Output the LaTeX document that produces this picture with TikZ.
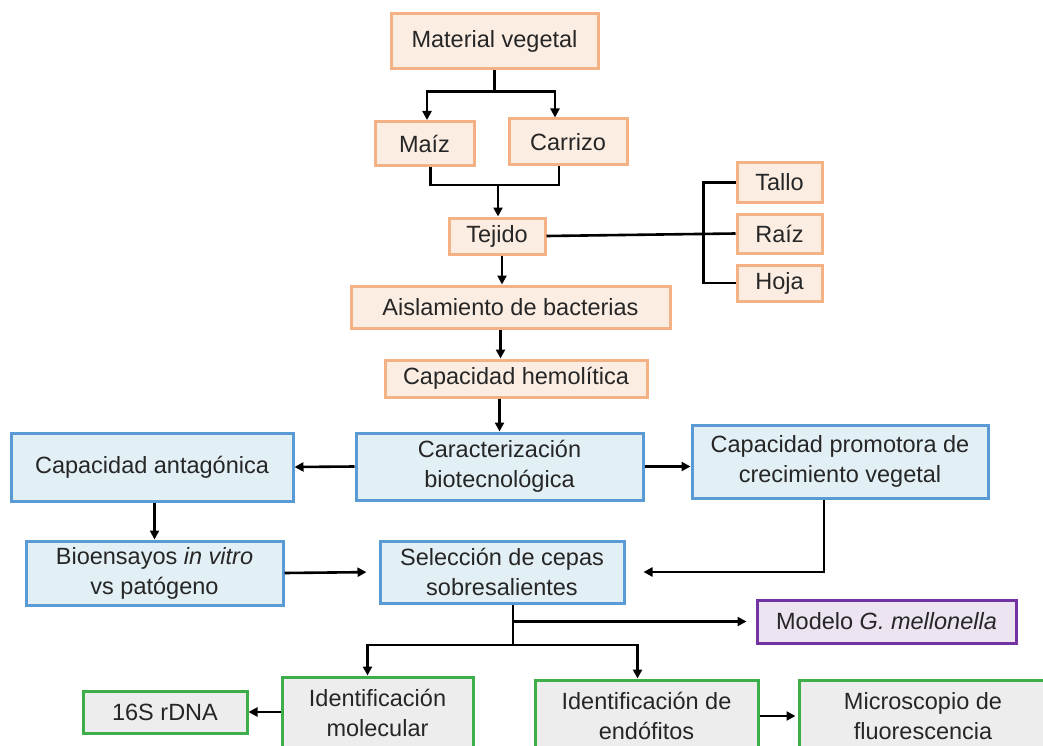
\documentclass[tikz,border=0pt]{standalone}
\usepackage{amsmath}
\usepackage{xcolor}
\usepackage{tikz}
\usepackage{fontspec}
\setmainfont{Liberation Sans}
\usetikzlibrary{arrows.meta}

\definecolor{naranja}{HTML}{F4B183}
\definecolor{naranjafondo}{HTML}{FCEDE3}
\definecolor{azul}{HTML}{5B9BD5}
\definecolor{azulfondo}{HTML}{E2F0F5}
\definecolor{verde}{HTML}{3DAF4A}
\definecolor{verdefondo}{HTML}{EDEDED}
\definecolor{morado}{HTML}{7433A3}
\definecolor{moradofondo}{HTML}{ECE4F0}

\tikzset{
	caja/.style={line width=3pt, inner sep=0pt, align=center, text=black!85,
		font=\fontsize{23.5}{30}\selectfont},
	cajanar/.style={caja, draw=naranja, fill=naranjafondo},
	cajaazul/.style={caja, draw=azul, fill=azulfondo},
	cajaverde/.style={caja, draw=verde, fill=verdefondo},
	cajamor/.style={caja, draw=morado, fill=moradofondo},
	linea/.style={line width=2.6pt, black},
	flecha/.style={linea, -{Triangle[length=9pt,width=9pt]}}
}

\begin{document}
\begin{tikzpicture}[x=1pt,y=-1pt]
					\useasboundingbox (0,0) rectangle (1043,746);
					\clip (0,0) rectangle (1043,746);
					\node[cajanar, minimum width=207, minimum height=55] (matveg) at (494.5,41.5) {Material vegetal};
					\node[cajanar, minimum width=99, minimum height=44] (maiz) at (424.5,143.5) {Maíz};
					\node[cajanar, minimum width=118, minimum height=46] (carrizo) at (568,142) {Carrizo};
					\node[cajanar, minimum width=96, minimum height=36] (tejido) at (497,236) {Tejido};
					\node[cajanar, minimum width=85, minimum height=39] (tallo) at (779.5,182.5) {Tallo};
					\node[cajanar, minimum width=85, minimum height=39] (raiz) at (779.5,233.5) {Raíz};
					\node[cajanar, minimum width=85, minimum height=36] (hoja) at (779.5,283) {Hoja};
					\node[cajanar, minimum width=319, minimum height=42] (aislam) at (510.5,307) {Aislamiento de bacterias};
					\node[cajanar, minimum width=262, minimum height=37] (hemol) at (516,378.5) {Capacidad hemolítica};
					\node[cajaazul, minimum width=287, minimum height=67] (caract) at (499.5,466.5) {Caracterización\\biotecnológica};
					\node[cajaazul, minimum width=282, minimum height=68] (antag) at (152,467) {Capacidad antagónica};
					\node[cajaazul, minimum width=296, minimum height=73] (promot) at (840,461.5) {Capacidad promotora de\\crecimiento vegetal};
					\node[cajaazul, minimum width=257, minimum height=64] (bioens) at (154.5,573) {Bioensayos \textit{in vitro}\\vs patógeno};
					\node[cajaazul, minimum width=244, minimum height=62] (selecc) at (502,572) {Selección de cepas\\sobresalientes};
					\node[cajamor, minimum width=259, minimum height=43] (modelo) at (886.5,621.5) {Modelo \textit{G. mellonella}};
					\node[cajaverde, minimum width=191, minimum height=71] (idmol) at (377.5,712.5) {Identificación\\molecular};
					\node[cajaverde, minimum width=164, minimum height=42] (rdna) at (165,712) {16S rDNA};
					\node[cajaverde, minimum width=223, minimum height=72] (endof) at (646.5,716) {Identificación de\\endófitos};
					\node[cajaverde, minimum width=248, minimum height=72] (micro) at (923,716) {Microscopio de\\fluorescencia};
					\coordinate (mc) at (498,185);
					\coordinate (sj) at (513,645);
					\draw[flecha] (matveg.south) -- ++(0,21) -| ([xshift=2.5]maiz.north);
					\draw[flecha] (matveg.south) -- ++(0,21) -| ([xshift=-13]carrizo.north);
					\draw[linea] ([xshift=6]maiz.south) |- (mc) -| ([xshift=-9]carrizo.south);
					\draw[flecha] (mc) -- (mc |- tejido.north);
					\draw[linea] (tejido.east) -- (raiz.west);
					\draw[linea] (tallo.west) -- ++(-32,0) |- (hoja.west);
					\draw[flecha] ([xshift=5]tejido.south) -- ([xshift=5]tejido.south |- aislam.north);
					\draw[flecha] ([xshift=-10]aislam.south) -- ([xshift=-10]aislam.south |- hemol.north);
					\draw[flecha] (caract.north |- hemol.south) -- (caract.north);
					\draw[flecha] (caract.west) -- (antag.east);
					\draw[flecha] (caract.east) -- (caract.east -| promot.west);
					\draw[flecha] (bioens.north |- antag.south) -- (bioens.north);
					\draw[flecha, shorten >=12pt] (bioens.east) -- (selecc.west);
					\draw[flecha, shorten >=18pt] ([xshift=-16]promot.south) |- (selecc.east);
					\draw[linea] ([xshift=11]selecc.south) -- (sj);
					\draw[flecha] (sj) -| ([xshift=-10]idmol.north);
					\draw[flecha] (sj) -| ([xshift=-9]endof.north);
					\draw[flecha, shorten >=9pt] ([xshift=11]selecc.south |- modelo.west) -- (modelo.west);
					\draw[flecha] (idmol.west |- rdna.east) -- (rdna.east);
					\draw[flecha, shorten >=2pt] (endof.east) -- (endof.east -| micro.west);
				\end{tikzpicture}
\end{document}
